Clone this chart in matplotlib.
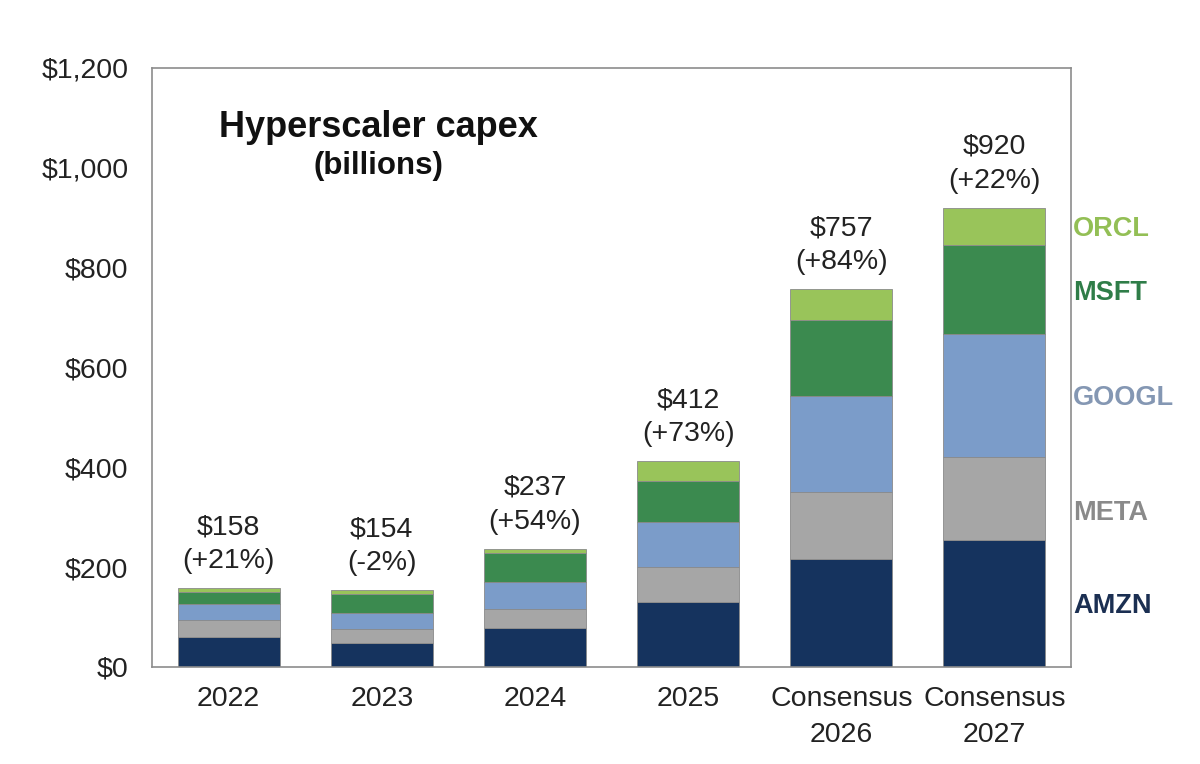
import numpy as np
import matplotlib.pyplot as plt

plt.rcParams['font.family'] = ['Liberation Sans', 'DejaVu Sans']

# capex in billions
years = ["2022", "2023", "2024", "2025", "Consensus\n2026", "Consensus\n2027"]
amzn = [61, 48, 78, 130, 216, 254]
meta = [34, 28, 39, 70, 135, 167]
googl = [31, 32, 53, 90, 191, 247]
msft = [24, 38, 58, 83, 154, 177]
orcl = [8, 8, 9, 39, 61, 75]
totals = ["$158", "$154", "$237", "$412", "$757", "$920"]
growth = ["(+21%)", "(-2%)", "(+54%)", "(+73%)", "(+84%)", "(+22%)"]

names = ["AMZN", "META", "GOOGL", "MSFT", "ORCL"]
series = [amzn, meta, googl, msft, orcl]
colors = ["#15335e", "#a6a6a6", "#7b9cc9", "#3b8a4f", "#99c45a"]
label_colors = ["#1b2f52", "#8a8a8a", "#8497b3", "#2f7d48", "#93bf55"]
label_y = [122, 308, 538, 750, 877]

fig = plt.figure(figsize=(12, 7.64), dpi=100)
ax = fig.add_axes([0.1267, 0.127, 0.7658, 0.784])

x = np.arange(len(years))
bottom = np.zeros(len(years))
for vals, c in zip(series, colors):
    ax.bar(x, vals, 0.667, bottom=bottom, color=c, edgecolor="#8a8a8a", linewidth=0.6)
    bottom += np.array(vals)

for xi, top, t, g in zip(x, bottom, totals, growth):
    ax.annotate(t + "\n" + g, (xi, top), xytext=(0, 10), textcoords="offset points",
                ha="center", va="bottom", fontsize=20.5, color="#222222", linespacing=1.4)

for n, c, yv in zip(names, label_colors, label_y):
    ax.text(1.002, yv, n, transform=ax.get_yaxis_transform(), ha="left", va="center",
            fontsize=19.5, fontweight="bold", color=c)

ax.text(0.246, 1080, "Hyperscaler capex", transform=ax.get_yaxis_transform(),
        ha="center", va="center", fontsize=26, fontweight="bold", color="#111111")
ax.text(0.246, 1004, "(billions)", transform=ax.get_yaxis_transform(),
        ha="center", va="center", fontsize=22.5, fontweight="bold", color="#111111")

ax.set_xlim(-0.5, 5.5)
ax.set_ylim(0, 1200)
ax.set_yticks(range(0, 1201, 200))
ax.set_yticklabels(["$0", "$200", "$400", "$600", "$800", "$1,000", "$1,200"])
ax.set_xticks(x)
ax.set_xticklabels(years, linespacing=1.5)
ax.tick_params(length=0, labelsize=20.5, colors="#222222", pad=14)
ax.tick_params(axis="y", pad=17)
for s in ax.spines.values():
    s.set_color("#8c8c8c")
    s.set_linewidth(1.2)

fig.savefig("out.png")
